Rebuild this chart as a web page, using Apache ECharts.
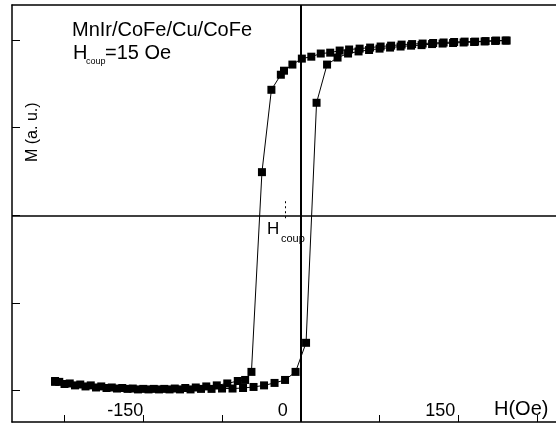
<!DOCTYPE html>
<html lang="en">
<head>
  <meta charset="UTF-8">
  <title>MnIr/CoFe/Cu/CoFe loop</title>
  <style>
    * {
      padding: 0;
      margin: 0;
    }

    body {
      background: #fff;
    }

    #chart {
      width: 556px;
      height: 424px;
    }
  </style>
</head>
<body>
  <div id="chart"></div>

  <script src="https://cdn.jsdelivr.net/npm/echarts/dist/echarts.min.js"></script>
  <script>
    // field sweep from +H down to -H
    const hDesc = [196, 186, 176, 166, 156, 146, 136, 126, 116, 106, 96, 86, 76, 66, 56, 46,
      37, 28, 19, 10, 1, -8, -16, -19, -28, -37, -47, -53,
      -60, -70, -80, -90, -100, -110, -120, -130, -140, -150, -160, -170, -180, -190, -200, -210, -220, -230, -234];
    const mDesc = [0.997, 0.997, 0.994, 0.991, 0.991, 0.989, 0.986, 0.983, 0.98, 0.977, 0.974, 0.968, 0.963, 0.957, 0.951, 0.946,
      0.94, 0.928, 0.923, 0.905, 0.894, 0.86, 0.825, 0.802, 0.716, 0.246, -0.894, -0.94,
      -0.946, -0.96, -0.971, -0.977, -0.983, -0.986, -0.989, -0.991, -0.991, -0.991, -0.989, -0.986, -0.983, -0.977, -0.971, -0.966, -0.96, -0.951, -0.946];

    // field sweep from -H back up to +H
    const hAsc = [-234, -225, -215, -205, -195, -185, -175, -165, -155, -145, -135, -125, -115, -105, -95, -85, -75, -65, -55,
      -45, -35, -25, -15, -5, 5, 15, 25, 35, 45,
      55, 65, 75, 85, 95, 105, 115, 125, 135, 145, 155, 165, 175, 185, 195];
    const mAsc = [-0.951, -0.963, -0.971, -0.977, -0.983, -0.986, -0.989, -0.991, -0.994, -0.994, -0.994, -0.994, -0.994, -0.994, -0.991, -0.991, -0.989, -0.989, -0.986,
      -0.98, -0.971, -0.957, -0.94, -0.894, -0.728, 0.642, 0.86, 0.9, 0.923,
      0.935, 0.943, 0.951, 0.957, 0.963, 0.968, 0.971, 0.977, 0.98, 0.983, 0.986, 0.989, 0.992, 0.995, 0.997];

    const xTicks = [-225, -150, -75, 0, 75, 150, 225];
    const xLabels = [-150, 0, 150];
    const yTicks = [-1, -0.5, 0, 0.5, 1];
    const hCoup = -15;

    const font = '"Liberation Sans", Arial, sans-serif';

    const toPairs = (xs, ys) => xs.map((x, i) => [x, ys[i]]);

    const chart = echarts.init(document.getElementById('chart'));

    const loopStyle = {
      type: 'line',
      symbol: 'rect',
      symbolSize: 8,
      showSymbol: true,
      itemStyle: { color: '#000' },
      lineStyle: { color: '#000', width: 1 },
      silent: true
    };

    const frameLine = { show: true, onZero: false, lineStyle: { color: '#000', width: 1.5 } };

    const option = {
      animation: false,
      backgroundColor: '#fff',
      grid: {
        left: 12,
        top: 5,
        right: 0,
        bottom: 2
      },
      xAxis: [
        {
          type: 'value',
          min: -275,
          max: 243,
          axisLine: frameLine,
          splitLine: { show: false },
          axisTick: {
            show: true,
            inside: true,
            length: 7,
            customValues: xTicks,
            lineStyle: { color: '#000', width: 1 }
          },
          axisLabel: {
            show: true,
            inside: true,
            margin: 2,
            customValues: xLabels,
            color: '#000',
            fontSize: 18,
            fontFamily: font,
            padding: [0, 36, 0, 0]
          }
        },
        {
          type: 'value',
          position: 'top',
          min: -275,
          max: 243,
          axisLine: frameLine,
          splitLine: { show: false },
          axisTick: { show: false },
          axisLabel: { show: false }
        }
      ],
      yAxis: {
        type: 'value',
        min: -1.18,
        max: 1.2,
        axisLine: frameLine,
        splitLine: { show: false },
        axisTick: {
          show: true,
          inside: true,
          length: 8,
          customValues: yTicks,
          lineStyle: { color: '#000', width: 1 }
        },
        axisLabel: { show: false }
      },
      series: [
        Object.assign({}, loopStyle, {
          name: 'down',
          data: toPairs(hDesc, mDesc),
          markLine: {
            silent: true,
            symbol: 'none',
            label: { show: false },
            lineStyle: { color: '#000', width: 1.5, type: 'solid' },
            data: [
              { xAxis: 0, lineStyle: { width: 2 } },
              { yAxis: 0 },
              [
                { coord: [hCoup, 0.08], lineStyle: { width: 1, type: [2, 3] } },
                { coord: [hCoup, -0.03] }
              ]
            ]
          }
        }),
        Object.assign({}, loopStyle, {
          name: 'up',
          data: toPairs(hAsc, mAsc)
        })
      ],
      graphic: [
        { type: 'text', left: 72, top: 20, style: { text: 'MnIr/CoFe/Cu/CoFe', font: '20px ' + font, fill: '#000' } },
        { type: 'text', left: 73, top: 43, style: { text: 'H', font: '20px ' + font, fill: '#000' } },
        { type: 'text', left: 86, top: 57, style: { text: 'coup', font: '9px ' + font, fill: '#000' } },
        { type: 'text', left: 105, top: 43, style: { text: '=15 Oe', font: '20px ' + font, fill: '#000' } },
        { type: 'text', left: 267, top: 221, style: { text: 'H', font: '17px ' + font, fill: '#000' } },
        { type: 'text', left: 281, top: 233, style: { text: 'coup', font: '11px ' + font, fill: '#000' } },
        { type: 'text', left: 494, top: 399, style: { text: 'H(Oe)', font: '20px ' + font, fill: '#000' } },
        {
          type: 'text',
          x: 25,
          y: 162,
          rotation: Math.PI / 2,
          style: { text: 'M (a. u.)', font: '16px ' + font, fill: '#000' }
        }
      ]
    };

    chart.setOption(option);
  </script>
</body>
</html>
